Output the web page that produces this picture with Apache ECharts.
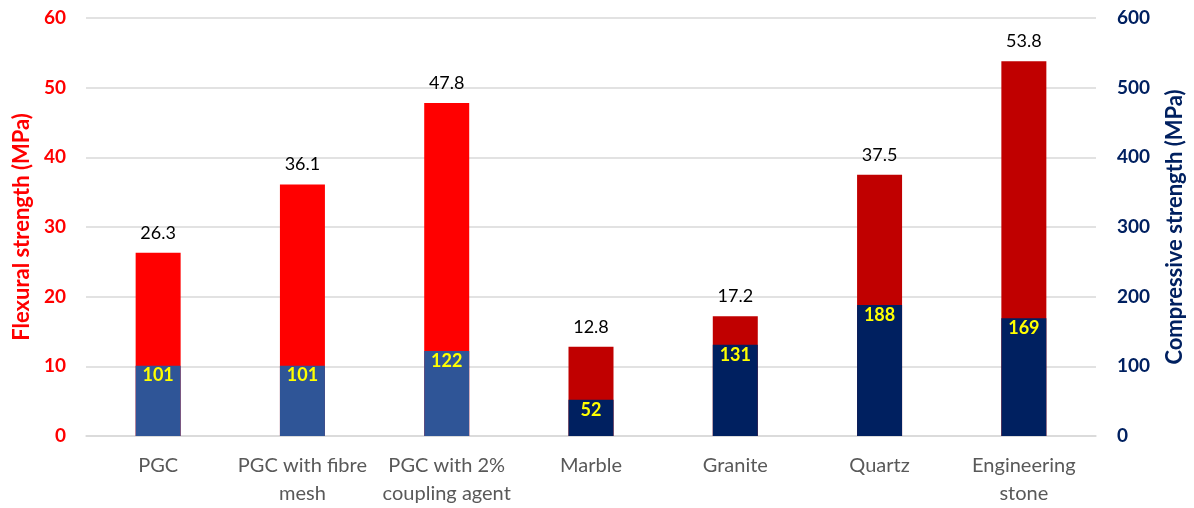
<!DOCTYPE html>
<html><head><meta charset="utf-8">
<script src="https://cdn.jsdelivr.net/npm/echarts@6/dist/echarts.min.js"></script>
<style>html,body{margin:0;padding:0;background:#fff}#c{width:1194px;height:508px}</style>
</head><body><div id="c"></div>
<script>
const categories = ['PGC', 'PGC with fibre\nmesh', 'PGC with 2%\ncoupling agent', 'Marble', 'Granite', 'Quartz', 'Engineering\nstone'];
const flexural = [26.3, 36.1, 47.8, 12.8, 17.2, 37.5, 53.8];
const compressive = [101, 101, 122, 52, 131, 188, 169];
const flexColors = ['#FF0000', '#FF0000', '#FF0000', '#C00000', '#C00000', '#C00000', '#C00000'];
const compColors = ['#2F5597', '#2F5597', '#2F5597', '#002060', '#002060', '#002060', '#002060'];
const font = 'Lato, "Open Sans", sans-serif';

const chart = echarts.init(document.getElementById('c'));
chart.setOption({
  animation: false,
  textStyle: { fontFamily: font },
  grid: { left: 86, right: 97, top: 18, bottom: 71 },
  xAxis: {
    type: 'category', data: categories,
    axisLine: { show: true, lineStyle: { color: '#D9D9D9', width: 1.5 } },
    axisTick: { show: false },
    axisLabel: { color: '#595959', fontSize: 20, lineHeight: 28, margin: 16, fontFamily: font, interval: 0 }
  },
  yAxis: [{
    type: 'value', min: 0, max: 60, interval: 10,
    name: 'Flexural strength (MPa)', nameLocation: 'middle', nameGap: 52, nameRotate: 90,
    nameTextStyle: { color: '#FF0000', fontSize: 22, fontWeight: 'bold', fontFamily: font },
    axisLine: { show: false }, axisTick: { show: false },
    axisLabel: { color: '#FF0000', fontSize: 19, fontWeight: 'bold', margin: 20, fontFamily: font },
    splitLine: { lineStyle: { color: '#D9D9D9', width: 1.5 } }
  }, {
    type: 'value', min: 0, max: 600, interval: 100, position: 'right',
    name: 'Compressive strength (MPa)', nameLocation: 'middle', nameGap: 68, nameRotate: 90,
    nameTextStyle: { color: '#002060', fontSize: 22, fontWeight: 'bold', fontFamily: font },
    axisLine: { show: false }, axisTick: { show: false },
    axisLabel: { color: '#002060', fontSize: 19, fontWeight: 'bold', margin: 21, fontFamily: font },
    splitLine: { show: false }
  }],
  series: [{
    name: 'Flexural', type: 'bar', yAxisIndex: 0, barWidth: 45, barGap: '-100%',
    data: flexural.map((v, i) => ({ value: v, itemStyle: { color: flexColors[i] } })),
    label: { show: true, position: 'top', distance: 11, color: '#000', fontSize: 18, fontFamily: font,
      formatter: p => p.value.toFixed(1) }
  }, {
    name: 'Compressive', type: 'bar', yAxisIndex: 1, barWidth: 45, barGap: '-100%', z: 3,
    data: compressive.map((v, i) => ({ value: v, itemStyle: { color: compColors[i] } })),
    label: { show: true, position: 'insideTop', distance: 1, color: '#FFFF00', fontSize: 18, fontWeight: 'bold', fontFamily: font }
  }]
});
</script></body></html>
